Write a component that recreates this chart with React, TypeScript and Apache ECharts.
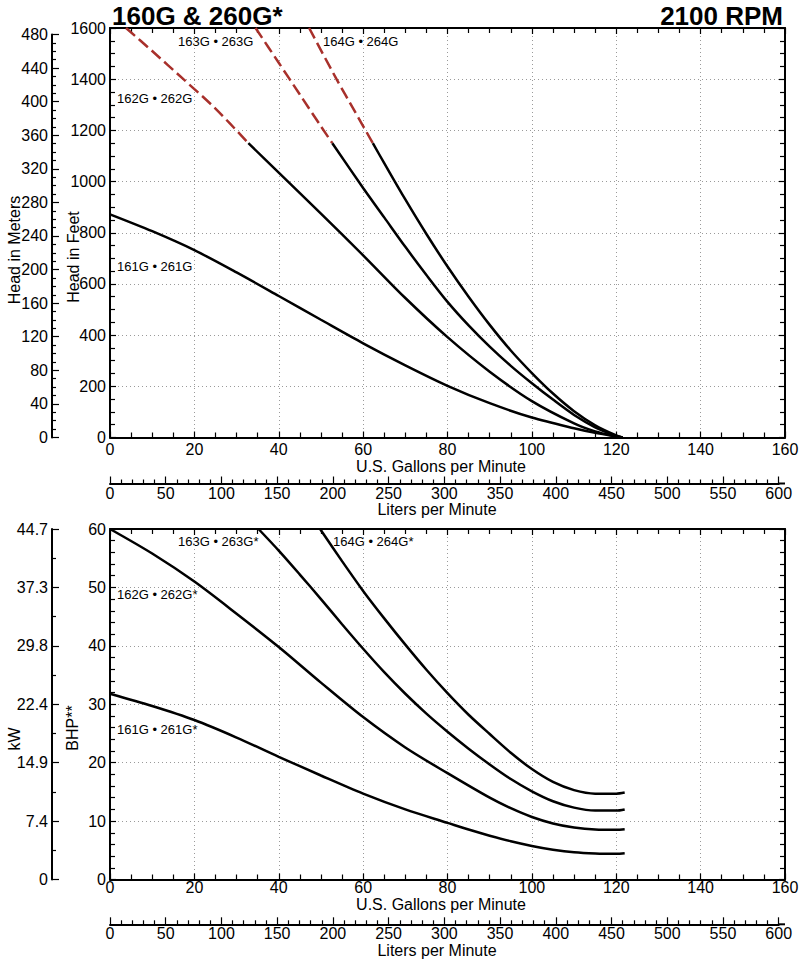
import React, { useEffect, useRef } from 'react';
import * as echarts from 'echarts';

// ---------------- data ----------------
// Head curves (U.S. GPM vs feet). Dashed = above max pressure.
const h161Gpm = [0, 10, 20, 30, 40, 50, 60, 70, 80, 90, 100, 110, 115, 120, 121.5];
const h161Ft = [872, 806, 732, 645, 553, 460, 368, 282, 202, 134, 78, 36, 18, 4, 0];

const h162DashGpm = [3.8, 10, 17.4, 25, 32.8];
const h162DashFt = [1600, 1510, 1400, 1285, 1150];
const h162Gpm = [32.8, 40, 50, 60, 70, 80, 90, 100, 110, 115, 120, 121.5];
const h162Ft = [1150, 1035, 875, 712, 545, 392, 257, 142, 55, 24, 4, 0];

const h163DashGpm = [34.5, 40, 45, 50, 52.7];
const h163DashFt = [1600, 1464, 1340, 1216, 1150];
const h163Gpm = [52.7, 60, 65, 70, 75, 80, 85, 90, 95, 100, 105, 110, 115, 120, 121.5];
const h163Ft = [1150, 975, 860, 745, 635, 530, 438, 355, 280, 212, 148, 88, 40, 6, 0];

const h164DashGpm = [47.2, 53.7, 58, 62.3];
const h164DashFt = [1600, 1400, 1275, 1150];
const h164Gpm = [62.3, 65, 70, 75, 80, 85, 90, 95, 100, 105, 110, 115, 120, 121.5];
const h164Ft = [1150, 1072, 930, 795, 668, 550, 440, 340, 252, 172, 103, 48, 8, 0];

// Power curves (U.S. GPM vs BHP)
const p161Gpm = [0, 10, 20, 30, 40, 50, 60, 70, 80, 85, 90, 95, 100, 105, 110, 115, 120, 122];
const p161Bhp = [31.8, 29.7, 27.3, 24.3, 21.0, 17.8, 14.7, 12.0, 9.7, 8.55, 7.5, 6.55, 5.75, 5.1, 4.65, 4.45, 4.4, 4.5];

const p162Gpm = [0, 10, 20, 30, 40, 50, 60, 70, 80, 90, 95, 100, 105, 110, 115, 120, 122];
const p162Bhp = [60, 55.8, 51, 45.5, 39.8, 33.7, 27.8, 22.6, 18.2, 14.0, 12.2, 10.7, 9.6, 8.9, 8.55, 8.5, 8.6];

const p163Gpm = [35.2, 40, 45, 50, 55, 60, 65, 70, 75, 80, 85, 90, 95, 100, 105, 110, 115, 120, 122];
const p163Bhp = [60, 56.3, 52.2, 48.0, 43.7, 39.5, 35.5, 31.8, 28.4, 25.3, 22.4, 19.7, 17.2, 15.1, 13.4, 12.3, 11.8, 11.8, 12.0];

const p164Gpm = [49.8, 55, 60, 65, 70, 75, 80, 85, 90, 95, 100, 105, 110, 115, 120, 122];
const p164Bhp = [60, 54.5, 49.4, 44.7, 40.2, 35.9, 31.9, 28.2, 24.9, 21.7, 18.9, 16.7, 15.3, 14.7, 14.7, 14.9];

// Labels
const headLabels = ['161G • 261G', '162G • 262G', '163G • 263G', '164G • 264G'];
const powerLabels = ['161G • 261G*', '162G • 262G*', '163G • 263G*', '164G • 264G*'];
const kwTickLabels = ['0', '7.4', '14.9', '22.4', '29.8', '37.3', '44.7'];

const titleLeft = '160G & 260G*';
const titleRight = '2100 RPM';

// ---------------- layout ----------------
const FONT = '"Liberation Sans", Arial, Helvetica, sans-serif';
const PL = 110;
const PW = 675;
const T1 = 28;
const H1 = 409.5;
const T2 = 529;
const H2 = 350.5;
const SEC_X = 52;
const FT_PER_M = 3.28084;
const L_PER_GAL = 3.785411784;
const MAX_GPM = 160;
const MAX_FT = 1600;
const MAX_M = 480;
const MAX_L = 600;
const MAX_BHP = 60;
const LIT1_Y = 483.5;
const LIT2_Y = 924.3;
const LH = 11;

const metersH = H1 * ((MAX_M * FT_PER_M) / MAX_FT);
const litersW = PW * (MAX_L / L_PER_GAL / MAX_GPM);

const zip = (xs: number[], ys: number[]) => xs.map((x, i) => [x, ys[i]]);
const plain = (v: number) => String(v);

const BLACK = '#000';
const RED = '#a8302b';
const GRIDC = '#9a9a9a';

function mainX(grid: number, pos: 'bottom' | 'top', labelMargin: number) {
  return {
    type: 'value',
    gridIndex: grid,
    position: pos,
    min: 0,
    max: MAX_GPM,
    interval: 20,
    axisLine: { show: true, onZero: false, lineStyle: { color: BLACK, width: 2 } },
    axisTick: { show: true, inside: true, length: 6, lineStyle: { color: BLACK, width: 1.2 } },
    minorTick: { show: true, splitNumber: 4, length: 5, lineStyle: { color: BLACK, width: 1.2 } },
    axisLabel: {
      show: pos === 'bottom',
      margin: labelMargin,
      color: BLACK,
      fontSize: 16,
      lineHeight: LH,
      fontFamily: FONT,
      formatter: plain,
    },
    splitLine: pos === 'bottom'
      ? { show: true, lineStyle: { color: GRIDC, type: [1, 3], width: 1 } }
      : { show: false },
  };
}

function mainY(grid: number, pos: 'left' | 'right', max: number, interval: number, minorSplit: number) {
  return {
    type: 'value',
    gridIndex: grid,
    position: pos,
    min: 0,
    max,
    interval,
    axisLine: { show: true, onZero: false, lineStyle: { color: BLACK, width: 2 } },
    axisTick: { show: true, inside: true, length: 6, lineStyle: { color: BLACK, width: 1.2 } },
    minorTick: { show: true, splitNumber: minorSplit, length: 5, lineStyle: { color: BLACK, width: 1.2 } },
    axisLabel: {
      show: pos === 'left',
      margin: 4,
      color: BLACK,
      fontSize: 16,
      lineHeight: LH,
      fontFamily: FONT,
      formatter: plain,
    },
    splitLine: pos === 'left'
      ? { show: true, lineStyle: { color: GRIDC, type: [1, 3], width: 1 } }
      : { show: false },
  };
}

function secY(grid: number, max: number, interval: number, minorSplit: number, fmt: (v: number) => string) {
  return {
    type: 'value',
    gridIndex: grid,
    position: 'left',
    min: 0,
    max,
    interval,
    axisLine: { show: true, onZero: false, lineStyle: { color: BLACK, width: 2 } },
    axisTick: { show: true, inside: true, length: 7, lineStyle: { color: BLACK, width: 1.2 } },
    minorTick: { show: true, splitNumber: minorSplit, length: 4, lineStyle: { color: BLACK, width: 1.2 } },
    axisLabel: {
      show: true,
      margin: 4,
      color: BLACK,
      fontSize: 16,
      lineHeight: LH,
      fontFamily: FONT,
      formatter: fmt,
    },
    splitLine: { show: false },
  };
}

function litersX(grid: number) {
  return {
    type: 'value',
    gridIndex: grid,
    position: 'bottom',
    min: 0,
    max: MAX_L,
    interval: 50,
    axisLine: { show: true, onZero: false, lineStyle: { color: BLACK, width: 2 } },
    axisTick: { show: true, inside: true, length: 7, lineStyle: { color: BLACK, width: 1.2 } },
    minorTick: { show: true, splitNumber: 5, length: 4, lineStyle: { color: BLACK, width: 1.2 } },
    axisLabel: { show: true, margin: 4, color: BLACK, fontSize: 16, lineHeight: LH, fontFamily: FONT, formatter: plain },
    splitLine: { show: false },
  };
}

const hidden = (grid: number) => ({ type: 'value', gridIndex: grid, show: false, min: 0, max: 1 });

function lineSeries(name: string, xi: number, yi: number, data: number[][], dashed: boolean) {
  return {
    name,
    type: 'line',
    xAxisIndex: xi,
    yAxisIndex: yi,
    data,
    showSymbol: false,
    smooth: 0.3,
    silent: true,
    lineStyle: {
      color: dashed ? RED : BLACK,
      width: 2.5,
      type: dashed ? [12, 5] : 'solid',
      cap: 'butt',
    },
  };
}

function txt(x: number, y: number, text: string, size: number, opts: any = {}) {
  return {
    type: 'text',
    x,
    y,
    rotation: opts.rotation || 0,
    silent: true,
    style: {
      text,
      fill: BLACK,
      font: `${opts.bold ? 'bold ' : ''}${size}px ${FONT}`,
      lineHeight: opts.lh || LH,
      align: opts.align || 'left',
      verticalAlign: opts.va || 'middle',
    },
  };
}

export default function App() {
  const ref = useRef<HTMLDivElement>(null);

  useEffect(() => {
    document.body.style.margin = '0';
    if (!ref.current) return;
    const chart = echarts.init(ref.current, undefined, { renderer: 'svg' });

    const grids = [
      { left: PL, top: T1, width: PW, height: H1 },
      { left: SEC_X, top: T1 + H1 - metersH, width: 1, height: metersH },
      { left: PL, top: LIT1_Y - 10, width: litersW, height: 10 },
      { left: PL, top: T2, width: PW, height: H2 },
      { left: SEC_X, top: T2, width: 1, height: H2 },
      { left: PL, top: LIT2_Y - 10, width: litersW, height: 10 },
    ].map((g) => ({ ...g, containLabel: false, outerBoundsMode: 'none' }));

    const option: any = {
      animation: false,
      backgroundColor: '#fff',
      grid: grids,
      xAxis: [
        mainX(0, 'bottom', 6),
        mainX(0, 'top', 6),
        hidden(1),
        litersX(2),
        mainX(3, 'bottom', 2.5),
        mainX(3, 'top', 2.5),
        hidden(4),
        litersX(5),
      ],
      yAxis: [
        mainY(0, 'left', MAX_FT, 200, 4),
        mainY(0, 'right', MAX_FT, 200, 4),
        secY(1, MAX_M, 40, 4, plain),
        hidden(2),
        mainY(3, 'left', MAX_BHP, 10, 5),
        mainY(3, 'right', MAX_BHP, 10, 5),
        secY(4, MAX_BHP, 10, 2, (v: number) => kwTickLabels[Math.round(v / 10)] ?? ''),
        hidden(5),
      ],
      series: [
        lineSeries('161G', 0, 0, zip(h161Gpm, h161Ft), false),
        lineSeries('162G max', 0, 0, zip(h162DashGpm, h162DashFt), true),
        lineSeries('162G', 0, 0, zip(h162Gpm, h162Ft), false),
        lineSeries('163G max', 0, 0, zip(h163DashGpm, h163DashFt), true),
        lineSeries('163G', 0, 0, zip(h163Gpm, h163Ft), false),
        lineSeries('164G max', 0, 0, zip(h164DashGpm, h164DashFt), true),
        lineSeries('164G', 0, 0, zip(h164Gpm, h164Ft), false),
        lineSeries('161G BHP', 4, 4, zip(p161Gpm, p161Bhp), false),
        lineSeries('162G BHP', 4, 4, zip(p162Gpm, p162Bhp), false),
        lineSeries('163G BHP', 4, 4, zip(p163Gpm, p163Bhp), false),
        lineSeries('164G BHP', 4, 4, zip(p164Gpm, p164Bhp), false),
      ],
      graphic: [
        txt(112, 15.5, titleLeft, 26, { bold: true, lh: 26 }),
        txt(783, 15.5, titleRight, 26, { bold: true, align: 'right', lh: 26 }),
        txt(441, 466, 'U.S. Gallons per Minute', 16, { align: 'center' }),
        txt(437, 509.5, 'Liters per Minute', 16, { align: 'center' }),
        txt(441, 904.5, 'U.S. Gallons per Minute', 16, { align: 'center' }),
        txt(437, 950, 'Liters per Minute', 16, { align: 'center' }),
        txt(14, 250, 'Head in Meters', 16, { align: 'center', rotation: Math.PI / 2 }),
        txt(73, 257, 'Head in Feet', 16, { align: 'center', rotation: Math.PI / 2 }),
        txt(14, 739, 'kW', 16, { align: 'center', rotation: Math.PI / 2 }),
        txt(72, 728, 'BHP**', 16, { align: 'center', rotation: Math.PI / 2 }),
        txt(117, 266.5, headLabels[0], 13),
        txt(117, 98, headLabels[1], 13),
        txt(178, 41, headLabels[2], 13),
        txt(323, 41, headLabels[3], 13),
        txt(117, 729, powerLabels[0], 13),
        txt(117, 594, powerLabels[1], 13),
        txt(178, 541, powerLabels[2], 13),
        txt(333, 541, powerLabels[3], 13),
        {
          type: 'line',
          silent: true,
          shape: { x1: PL + litersW, y1: LIT1_Y, x2: PL + PW, y2: LIT1_Y },
          style: { stroke: BLACK, lineWidth: 2 },
        },
        {
          type: 'line',
          silent: true,
          shape: { x1: PL + litersW, y1: LIT2_Y, x2: PL + PW, y2: LIT2_Y },
          style: { stroke: BLACK, lineWidth: 2 },
        },
      ],
    };

    chart.setOption(option);
    return () => chart.dispose();
  }, []);

  return <div ref={ref} style={{ width: 800, height: 961 }} />;
}
